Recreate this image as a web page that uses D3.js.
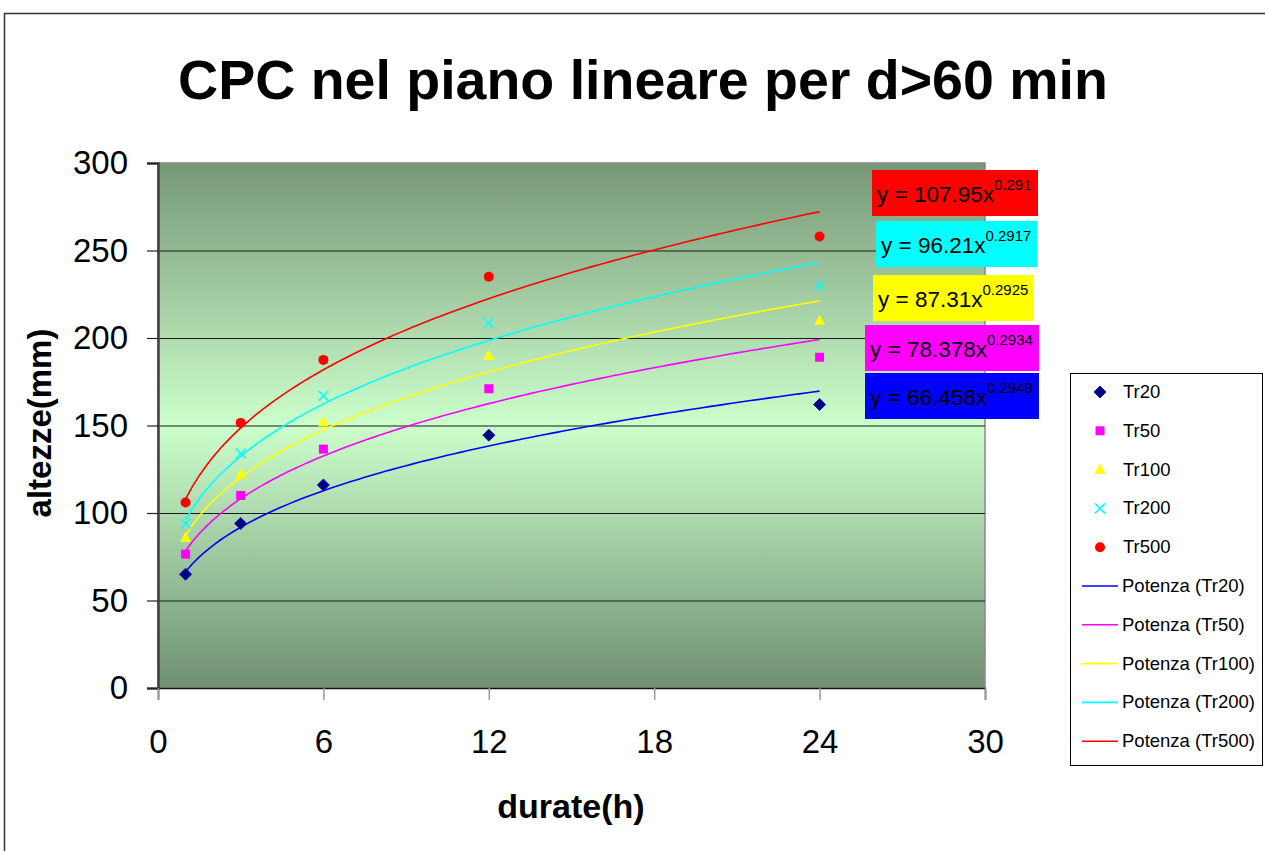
<!DOCTYPE html>
<html>
<head>
  <meta charset="UTF-8">
  <title>CPC nel piano lineare per d>60 min</title>
  <script src="https://d3js.org/d3.v7.min.js"></script>
  <style>
    body { margin: 0; background: #fff; }
    text { font-family: Arial, "Liberation Sans", sans-serif; fill: #000; }
    .grid line { stroke: #1a1a1a; stroke-width: 1; }
  </style>
</head>
<body>
  <div id="chart"></div>
  <script>
    // durations (h) of the measured points
    var durations = [1, 3, 6, 12, 24];

    // series names
    var seriesNames = ["Tr20", "Tr50", "Tr100", "Tr200", "Tr500"];

    // measured heights (mm) per series
    var tr20 = [65, 94, 116, 144.5, 162];
    var tr50 = [76.5, 110, 136.5, 171, 189];
    var tr100 = [86, 122, 152, 190, 210];
    var tr200 = [94, 134, 167, 208.5, 230];
    var tr500 = [106, 151.5, 187.5, 235, 258];

    // power trend lines y = a x^b
    var coefA = [66.458, 78.378, 87.31, 96.21, 107.95];
    var coefB = [0.2949, 0.2934, 0.2925, 0.2917, 0.291];
    var coefALabels = ["66.458", "78.378", "87.31", "96.21", "107.95"];
    var coefBLabels = ["0.2949", "0.2934", "0.2925", "0.2917", "0.291"];

    // axis ticks
    var xTicks = [0, 6, 12, 18, 24, 30];
    var yTicks = [0, 50, 100, 150, 200, 250, 300];

    var colors = ["#0000ff", "#ff00ff", "#ffff00", "#00ffff", "#ff0000"];
    var values = [tr20, tr50, tr100, tr200, tr500];

    var width = 1265, height = 851;
    var plot = { left: 158, right: 985, top: 163, bottom: 688 };

    var svg = d3.select("#chart").append("svg")
        .attr("width", width)
        .attr("height", height);

    // outer chart border (only top and left are visible)
    svg.append("path")
        .attr("d", "M4.5," + height + " L4.5,13.5 L" + width + ",13.5")
        .attr("fill", "none")
        .attr("stroke", "#333")
        .attr("stroke-width", 1.5);

    // background gradient of the plot area
    var grad = svg.append("defs").append("linearGradient")
        .attr("id", "bg")
        .attr("x1", 0).attr("y1", 0).attr("x2", 0).attr("y2", 1);
    grad.append("stop").attr("offset", "0%").attr("stop-color", "#779777");
    grad.append("stop").attr("offset", "50%").attr("stop-color", "#ccffcc");
    grad.append("stop").attr("offset", "100%").attr("stop-color", "#6f8f71");

    var x = d3.scaleLinear().domain([0, 30]).range([plot.left, plot.right]);
    var y = d3.scaleLinear().domain([0, 300]).range([plot.bottom, plot.top]);

    svg.append("rect")
        .attr("x", plot.left)
        .attr("y", plot.top)
        .attr("width", plot.right - plot.left)
        .attr("height", plot.bottom - plot.top)
        .attr("fill", "url(#bg)")
        .attr("stroke", "#888")
        .attr("stroke-width", 1.5);

    // horizontal gridlines
    svg.append("g").attr("class", "grid")
      .selectAll("line")
      .data(yTicks.filter(function(d) { return d > 0 && d < 300; }))
      .enter().append("line")
        .attr("x1", plot.left).attr("x2", plot.right)
        .attr("y1", function(d) { return y(d) + 0.5; })
        .attr("y2", function(d) { return y(d) + 0.5; });

    // y axis
    var yAxis = svg.append("g")
        .attr("transform", "translate(" + plot.left + ",0)")
        .call(d3.axisLeft(y).tickValues(yTicks).tickSize(11).tickPadding(19));
    yAxis.select(".domain").attr("stroke", "#404040").attr("stroke-width", 2.5);
    yAxis.selectAll(".tick line").attr("stroke", "#222").attr("stroke-width", 1.2);
    yAxis.selectAll(".tick text")
        .style("font-size", "33px")
        .style("font-family", "Arial, 'Liberation Sans', sans-serif")
        .attr("fill", "#000");

    // x axis
    var xAxis = svg.append("g")
        .attr("transform", "translate(0," + plot.bottom + ")")
        .call(d3.axisBottom(x).tickValues(xTicks).tickSize(12).tickPadding(30));
    xAxis.select(".domain").attr("stroke", "#111").attr("stroke-width", 1.5);
    xAxis.selectAll(".tick line").attr("stroke", "#999").attr("stroke-width", 1.5);
    xAxis.selectAll(".tick text")
        .style("font-size", "33px")
        .style("font-family", "Arial, 'Liberation Sans', sans-serif")
        .attr("fill", "#000");

    // titles
    svg.append("text")
        .attr("x", 643).attr("y", 99)
        .attr("text-anchor", "middle")
        .style("font-size", "55.5px").style("font-weight", "bold")
        .text("CPC nel piano lineare per d>60 min");

    svg.append("text")
        .attr("x", 571).attr("y", 818)
        .attr("text-anchor", "middle")
        .style("font-size", "34px").style("font-weight", "bold")
        .text("durate(h)");

    svg.append("text")
        .attr("transform", "translate(51,423) rotate(-90)")
        .attr("text-anchor", "middle")
        .style("font-size", "33px").style("font-weight", "bold")
        .text("altezze(mm)");

    // trend curves
    var line = d3.line()
        .x(function(d) { return x(d[0]); })
        .y(function(d) { return y(d[1]); });

    var curveX = d3.range(1, 24.001, 0.25);
    seriesNames.forEach(function(name, i) {
      var pts = curveX.map(function(t) { return [t, coefA[i] * Math.pow(t, coefB[i])]; });
      svg.append("path")
          .attr("d", line(pts))
          .attr("fill", "none")
          .attr("stroke", colors[i])
          .attr("stroke-width", 1.6);
    });

    // marker drawing
    function drawMarker(g, i) {
      if (i === 0) {
        g.append("path").attr("d", "M0,-6L6,0L0,6L-6,0Z")
          .attr("fill", "#000080").attr("stroke", "#1010c0").attr("stroke-width", 1);
      } else if (i === 1) {
        g.append("rect").attr("x", -4.5).attr("y", -4.5).attr("width", 9).attr("height", 9)
          .attr("fill", "#ff00ff");
      } else if (i === 2) {
        g.append("path").attr("d", "M0,-6L5.5,4.5L-5.5,4.5Z").attr("fill", "#ffff00");
      } else if (i === 3) {
        g.append("path").attr("d", "M-5,-5L5,5M-5,5L5,-5")
          .attr("stroke", "#00ffff").attr("stroke-width", 1.5);
      } else {
        g.append("circle").attr("r", 5).attr("fill", "#ff0000");
      }
    }

    // data points
    seriesNames.forEach(function(name, i) {
      svg.append("g").selectAll("g")
        .data(durations.map(function(d, j) { return [d, values[i][j]]; }))
        .enter().append("g")
          .attr("transform", function(d) { return "translate(" + x(d[0]) + "," + y(d[1]) + ")"; })
          .each(function() { drawMarker(d3.select(this), i); });
    });

    // trend line equation labels (top to bottom: Tr500 ... Tr20)
    var labelBoxes = [
      { i: 4, x: 872, y: 170, w: 166 },
      { i: 3, x: 876, y: 221, w: 161 },
      { i: 2, x: 873, y: 275, w: 161 },
      { i: 1, x: 865, y: 325, w: 174 },
      { i: 0, x: 865, y: 373, w: 174 }
    ];
    labelBoxes.forEach(function(b) {
      svg.append("rect")
          .attr("x", b.x).attr("y", b.y)
          .attr("width", b.w).attr("height", 46)
          .attr("fill", colors[b.i]);
      var t = svg.append("text")
          .attr("x", b.x + 5).attr("y", b.y + 32)
          .style("font-size", "22.5px");
      t.append("tspan").text("y = " + coefALabels[b.i] + "x");
      t.append("tspan")
          .attr("dy", -12)
          .style("font-size", "15px")
          .text(coefBLabels[b.i]);
    });

    // legend
    var legend = svg.append("g").attr("transform", "translate(1070,373)");
    legend.append("rect")
        .attr("x", 0.5).attr("y", 0.5)
        .attr("width", 192).attr("height", 392)
        .attr("fill", "#fff").attr("stroke", "#000").attr("stroke-width", 1);

    var rowH = 38.8;
    seriesNames.forEach(function(name, i) {
      var g = legend.append("g").attr("transform", "translate(30," + (19 + i * rowH) + ")");
      drawMarker(g, i);
      legend.append("text")
          .attr("x", 53).attr("y", 19 + i * rowH + 6)
          .style("font-size", "18.5px")
          .text(name);
    });
    seriesNames.forEach(function(name, i) {
      var yy = 19 + (i + 5) * rowH;
      legend.append("line")
          .attr("x1", 12).attr("x2", 48)
          .attr("y1", yy).attr("y2", yy)
          .attr("stroke", colors[i]).attr("stroke-width", 1.6);
      legend.append("text")
          .attr("x", 52).attr("y", yy + 6)
          .style("font-size", "18.5px")
          .text("Potenza (" + name + ")");
    });
  </script>
</body>
</html>
